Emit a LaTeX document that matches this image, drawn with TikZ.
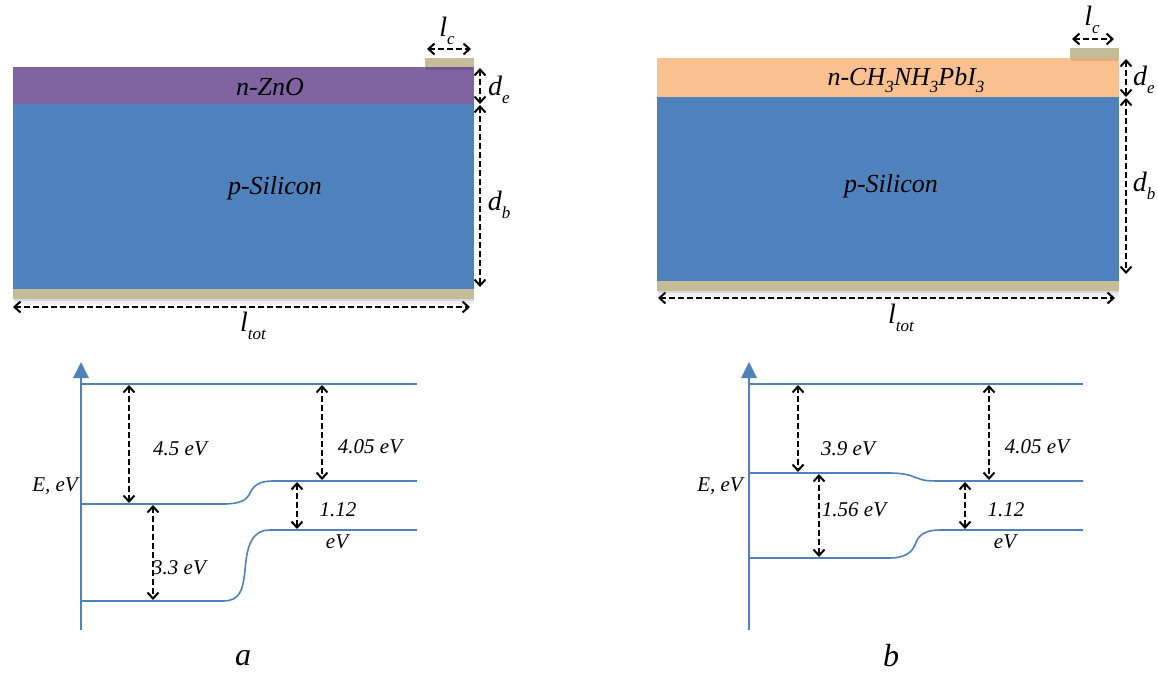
\documentclass[tikz,border=0pt]{standalone}
\usepackage{fontspec}
\newfontfamily\tnr{Liberation Serif}
\usetikzlibrary{arrows.meta}
\definecolor{zno}{HTML}{8064A2}
\definecolor{sil}{HTML}{4F81BD}
\definecolor{pero}{HTML}{FAC090}
\definecolor{metal}{HTML}{C4BD97}
\definecolor{band}{HTML}{4F81BD}
\definecolor{shadeA}{HTML}{D9D9D9}
\definecolor{shadeB}{HTML}{EFEFEF}
\definecolor{znoshade}{HTML}{6F5690}
\definecolor{peroshade}{HTML}{E3AC7E}
\newcommand{\sub}[1]{\raisebox{-0.3em}{\fontsize{17}{17}\selectfont #1}}
\begin{document}
\begin{tikzpicture}[x=1pt,y=-1pt,
  dimarrow/.style={line width=2pt, dash pattern=on 6pt off 3pt,
     {Straight Barb[length=6pt,width=11pt,line width=2pt]}-{Straight Barb[length=6pt,width=11pt,line width=2pt]}},
  lbl/.style={font=\tnr\fontsize{21}{24}\selectfont\itshape, inner sep=0pt},
  layerlbl/.style={font=\tnr\fontsize{26}{28}\selectfont\itshape, inner sep=0pt},
  dimlbl/.style={font=\tnr\fontsize{28}{30}\selectfont\itshape, inner sep=0pt},
  capt/.style={font=\tnr\fontsize{32}{34}\selectfont\itshape, inner sep=0pt},
  bandline/.style={draw=band, line width=1.6pt},
  axisline/.style={draw=band, line width=2.6pt}
]
\useasboundingbox (0,0) rectangle (1158,675);

% ================= LEFT DEVICE =================
\fill[shadeB] (14,299) rectangle (474,304);
\fill[shadeA] (14,299) rectangle (474,301);
\fill[metal] (13,289) rectangle (474,299);
\fill[sil] (13,104) rectangle (474,289);
\fill[zno] (13,67) rectangle (474,104);
\fill[znoshade] (426,67) rectangle (473,70);
\fill[metal] (425,58) rectangle (474,67);
\node[layerlbl] (znolbl) at (270,87) {n-ZnO};
\node[layerlbl] (silbl) at (275,188) {p-Silicon};

\coordinate (lcA) at (427,49); \coordinate (lcB) at (471,49);
\draw[dimarrow] (lcA) -- (lcB);
\node[dimlbl] (lclbl) at (447,31) {l\sub{c}};
\coordinate (deA) at (480,68); \coordinate (deB) at (480,104);
\draw[dimarrow] (deA) -- (deB);
\node[dimlbl] (delbl) at (499,90) {d\sub{e}};
\coordinate (dbA) at (480,105); \coordinate (dbB) at (480,287);
\draw[dimarrow] (dbA) -- (dbB);
\node[dimlbl] (dblbl) at (499,205) {d\sub{b}};
\coordinate (ltA) at (13,307); \coordinate (ltB) at (470,307);
\draw[dimarrow] (ltA) -- (ltB);
\node[dimlbl] (ltlbl) at (253,326) {l\sub{tot}};

% ================= RIGHT DEVICE =================
\fill[shadeB] (658,291) rectangle (1119,296);
\fill[shadeA] (658,291) rectangle (1119,293);
\fill[metal] (657,281) rectangle (1119,291);
\fill[sil] (657,97) rectangle (1119,281);
\fill[pero] (657,58) rectangle (1119,97);
\fill[peroshade] (1071,58) rectangle (1118,61);
\fill[metal] (1070,48) rectangle (1119,58);
\node[layerlbl] (perolbl) at (906,80) {n-CH\sub{3}NH\sub{3}PbI\sub{3}};
\node[layerlbl] (silbr) at (891,186) {p-Silicon};

\coordinate (rlcA) at (1072,39); \coordinate (rlcB) at (1114,39);
\draw[dimarrow] (rlcA) -- (rlcB);
\node[dimlbl] (rlclbl) at (1092,20) {l\sub{c}};
\coordinate (rdeA) at (1126,59); \coordinate (rdeB) at (1126,97);
\draw[dimarrow] (rdeA) -- (rdeB);
\node[dimlbl] (rdelbl) at (1144,80) {d\sub{e}};
\coordinate (rdbA) at (1126,98); \coordinate (rdbB) at (1126,274);
\draw[dimarrow] (rdbA) -- (rdbB);
\node[dimlbl] (rdblbl) at (1144,186) {d\sub{b}};
\coordinate (rltA) at (658,298); \coordinate (rltB) at (1115,298);
\draw[dimarrow] (rltA) -- (rltB);
\node[dimlbl] (rltlbl) at (901,318) {l\sub{tot}};

% ================= LEFT BAND DIAGRAM =================
\coordinate (axLtop) at (81,375); \coordinate (axLbot) at (81,630);
\draw[axisline] (axLtop) -- (axLbot);
\fill[band] (81,362) -- (89,378) -- (73,378) -- cycle;
\draw[bandline] (81,384) -- (417,384);
\draw[bandline] (81,504) -- (223,504) .. controls (240,504) and (246,500) .. (249,495)
   .. controls (253,486) and (258,481) .. (273,481) -- (417,481);
\draw[bandline] (81,601) -- (223,601) .. controls (240,601) and (243,590) .. (245,570)
   .. controls (247,545) and (252,530) .. (270,530) -- (417,530);

\coordinate (a1t) at (129,385); \coordinate (a1b) at (129,503);
\draw[dimarrow] (a1t) -- (a1b);
\node[lbl] (l45) at (180,449) {4.5 eV};
\coordinate (a2t) at (322,385); \coordinate (a2b) at (322,480);
\draw[dimarrow] (a2t) -- (a2b);
\node[lbl] (l405) at (370,447) {4.05 eV};
\coordinate (a3t) at (153,505); \coordinate (a3b) at (153,600);
\draw[dimarrow] (a3t) -- (a3b);
\node[lbl] (l33) at (179,568) {3.3 eV};
\coordinate (a4t) at (297,482); \coordinate (a4b) at (297,529);
\draw[dimarrow] (a4t) -- (a4b);
\node[lbl] (l112) at (338,510) {1.12};
\node[lbl] (lev) at (337,542) {eV};
\node[lbl] (eaxL) at (55,486) {E, eV};
\node[capt] (capa) at (243,658) {a};

% ================= RIGHT BAND DIAGRAM =================
\coordinate (axRtop) at (749,375); \coordinate (axRbot) at (749,630);
\draw[axisline] (axRtop) -- (axRbot);
\fill[band] (749,362) -- (757,378) -- (741,378) -- cycle;
\draw[bandline] (749,384) -- (1083,384);
\draw[bandline] (749,473) -- (890,473) .. controls (905,473) and (912,476) .. (917,478)
   .. controls (924,481) and (930,481) .. (943,481) -- (1083,481);
\draw[bandline] (749,558) -- (890,558) .. controls (905,558) and (912,552) .. (915,545)
   .. controls (918,535) and (925,530) .. (940,530) -- (1083,530);

\coordinate (b1t) at (798,385); \coordinate (b1b) at (798,472);
\draw[dimarrow] (b1t) -- (b1b);
\node[lbl] (r39) at (848,449) {3.9 eV};
\coordinate (b2t) at (989,385); \coordinate (b2b) at (989,480);
\draw[dimarrow] (b2t) -- (b2b);
\node[lbl] (r405) at (1037,447) {4.05 eV};
\coordinate (b3t) at (819,474); \coordinate (b3b) at (819,557);
\draw[dimarrow] (b3t) -- (b3b);
\node[lbl] (r156) at (854,510) {1.56 eV};
\coordinate (b4t) at (965,482); \coordinate (b4b) at (965,529);
\draw[dimarrow] (b4t) -- (b4b);
\node[lbl] (r112) at (1006,510) {1.12};
\node[lbl] (rev) at (1005,542) {eV};
\node[lbl] (eaxR) at (720,486) {E, eV};
\node[capt] (capb) at (891,656) {b};
\end{tikzpicture}
\end{document}
